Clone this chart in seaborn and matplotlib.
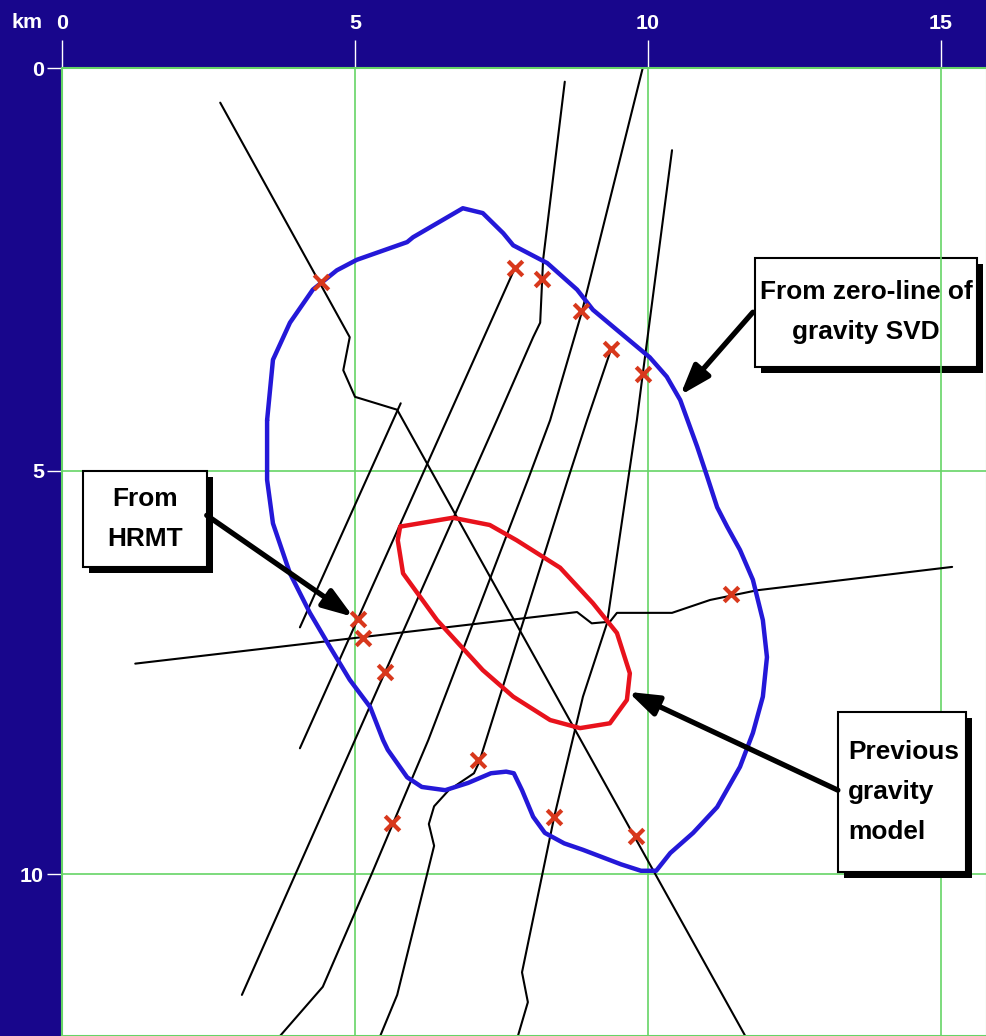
import matplotlib
matplotlib.use("Agg")
import matplotlib.pyplot as plt
from matplotlib import font_manager
from matplotlib.patches import Rectangle
import seaborn as sns

# axis ticks (km)
x_ticks = [0, 5, 10, 15]
y_ticks = [0, 5, 10]

# survey profiles (km east, km south)
line_a_x = [2.70, 4.91, 4.80, 5.00, 5.72, 11.66]
line_a_y = [0.43, 3.34, 3.75, 4.08, 4.24, 12.01]
line_b_x = [5.78, 4.06]
line_b_y = [4.16, 6.94]
line_c_x = [1.25, 8.79, 9.04, 9.35, 9.47, 10.41, 11.06, 11.86, 15.19]
line_c_y = [7.39, 6.75, 6.89, 6.87, 6.76, 6.76, 6.60, 6.48, 6.19]
line_d_x = [7.73, 4.06]
line_d_y = [2.48, 8.44]
line_e_x = [8.58, 8.21, 8.16, 8.04, 7.42, 3.07]
line_e_y = [0.17, 2.38, 3.16, 3.34, 4.37, 11.50]
line_f_x = [9.91, 8.87, 8.33, 7.95, 6.25, 5.65, 5.29, 4.45, 3.72]
line_f_y = [0.00, 3.03, 4.37, 5.11, 8.34, 9.37, 9.99, 11.40, 12.01]
line_g_x = [10.41, 9.91, 9.81, 9.66, 9.30, 8.89, 8.55, 8.40, 7.85, 7.95, 7.78]
line_g_y = [1.02, 3.80, 4.37, 5.11, 6.89, 7.80, 8.83, 9.29, 11.22, 11.59, 12.01]
line_h_x = [9.37, 8.96, 8.63, 7.12, 7.03, 6.60, 6.35, 6.26, 6.35, 5.72, 5.43]
line_h_y = [3.49, 4.37, 5.11, 8.61, 8.75, 8.96, 9.16, 9.38, 9.65, 11.50, 12.01]

# zero-line of gravity SVD (blue)
svd_x = [3.50, 3.60, 3.89, 4.28, 4.69, 5.03, 5.89, 5.99, 6.84, 7.18, 7.53, 7.70,
         8.28, 8.79, 9.06, 9.47, 10.03, 10.32, 10.55, 10.84, 11.01, 11.18, 11.35,
         11.57, 11.79, 11.96, 12.03, 11.96, 11.79, 11.57, 11.18, 10.77, 10.38,
         10.14, 9.88, 9.54, 8.89, 8.57, 8.24, 8.04, 7.85, 7.71, 7.58, 7.32, 6.93,
         6.54, 6.14, 5.89, 5.56, 5.48, 5.26, 4.91, 4.57, 4.23, 3.89, 3.60, 3.50, 3.50]
svd_y = [4.37, 3.62, 3.16, 2.75, 2.51, 2.38, 2.16, 2.10, 1.74, 1.80, 2.05, 2.20,
         2.42, 2.75, 3.00, 3.25, 3.59, 3.83, 4.12, 4.70, 5.07, 5.45, 5.69,
         5.98, 6.35, 6.85, 7.31, 7.80, 8.25, 8.67, 9.17, 9.49, 9.74,
         9.96, 9.96, 9.88, 9.70, 9.62, 9.49, 9.29, 8.96, 8.75, 8.73, 8.75, 8.87,
         8.96, 8.92, 8.80, 8.46, 8.34, 7.93, 7.59, 7.18, 6.76, 6.27, 5.65, 5.11, 4.37]

# previous gravity model (red)
prev_x = [5.77, 6.67, 7.30, 7.76, 8.50, 9.06, 9.47, 9.69, 9.64, 9.35, 8.84, 8.33,
          7.70, 7.18, 6.40, 5.82, 5.73, 5.77]
prev_y = [5.69, 5.58, 5.67, 5.86, 6.20, 6.64, 7.01, 7.51, 7.84, 8.13, 8.19, 8.09,
          7.80, 7.47, 6.85, 6.27, 5.86, 5.69]

# HRMT edge picks (red crosses)
hit_x = [4.42, 7.73, 8.19, 8.86, 9.37, 9.91, 11.42, 5.05, 5.14, 5.51, 7.10, 5.63, 8.40, 9.80]
hit_y = [2.66, 2.48, 2.62, 3.01, 3.49, 3.80, 6.53, 6.84, 7.07, 7.49, 8.59, 9.37, 9.29, 9.53]

sns.set_style("white")
names = {f.name for f in font_manager.fontManager.ttflist}
if "Liberation Sans Narrow" in names:
    face, k = "Liberation Sans Narrow", 1.0
else:
    face, k = "Liberation Sans", 0.86
plt.rcParams["font.family"] = [face, "DejaVu Sans"]

navy = "#18068c"
green = "#66d466"

fig = plt.figure(figsize=(9.87, 10.36), dpi=100, facecolor=navy)
ax = fig.add_axes([62 / 987, 0, 925 / 987, 968 / 1036])
ax.set_facecolor("white")

profiles = [(line_a_x, line_a_y), (line_b_x, line_b_y), (line_c_x, line_c_y),
            (line_d_x, line_d_y), (line_e_x, line_e_y), (line_f_x, line_f_y),
            (line_g_x, line_g_y), (line_h_x, line_h_y)]
for xs, ys in profiles:
    sns.lineplot(x=xs, y=ys, sort=False, estimator=None, color="black",
                 lw=1.5, ax=ax, zorder=2)

sns.lineplot(x=svd_x, y=svd_y, sort=False, estimator=None, color="#2418d8",
             lw=3.2, ax=ax, zorder=3)
sns.lineplot(x=prev_x, y=prev_y, sort=False, estimator=None, color="#e8121c",
             lw=3.2, ax=ax, zorder=3)
sns.scatterplot(x=hit_x, y=hit_y, marker="x", s=110, linewidth=3,
                color="#d8381c", ax=ax, zorder=4)

ax.set_xlim(0, 925 / 58.6)
ax.set_ylim(968 / 80.6, 0)


def box(x0, y0, x1, y1, z):
    ax.add_patch(Rectangle((x0 + 0.1, y0 + 0.075), x1 - x0, y1 - y0,
                           fc="black", ec="none", zorder=z))
    ax.add_patch(Rectangle((x0, y0), x1 - x0, y1 - y0, fc="white",
                           ec="black", lw=1.5, zorder=z + 0.05))


tfont = dict(fontsize=22 * k, fontweight="bold", color="black", linespacing=1.85)

box(11.83, 2.36, 15.61, 3.71, 0.2)
ax.text(13.72, 3.03, "From zero-line of\ngravity SVD", ha="center", va="center",
        zorder=0.3, **tfont)

box(0.36, 5.00, 2.47, 6.19, 5)
ax.text(1.42, 5.60, "From\nHRMT", ha="center", va="center", zorder=5.2, **tfont)

box(13.24, 7.99, 15.43, 9.98, 5)
ax.text(13.41, 8.98, "Previous\ngravity\nmodel", ha="left", va="center",
        zorder=5.2, **tfont)

arrow = dict(arrowstyle="-|>,head_length=1.3,head_width=0.45", color="black",
             lw=3.8, shrinkA=0, shrinkB=0, mutation_scale=14)
ax.annotate("", xy=(10.55, 4.06), xytext=(11.79, 3.03), arrowprops=arrow, zorder=6)
ax.annotate("", xy=(4.97, 6.81), xytext=(2.47, 5.55), arrowprops=arrow, zorder=6)
ax.annotate("", xy=(9.66, 7.74), xytext=(13.24, 8.96), arrowprops=arrow, zorder=6)

ax.set_xticks(x_ticks)
ax.set_xticklabels([str(v) for v in x_ticks])
ax.set_yticks(y_ticks)
ax.set_yticklabels([str(v) for v in y_ticks])
ax.tick_params(axis="x", top=True, bottom=False, labeltop=True, labelbottom=False,
               length=20, width=1, color="white", labelcolor="white",
               labelsize=18 * k, pad=5)
ax.tick_params(axis="y", left=True, length=11, width=1, color="white",
               labelcolor="white", labelsize=18 * k, pad=2)
for lbl in ax.get_xticklabels() + ax.get_yticklabels():
    lbl.set_fontweight("bold")

ax.grid(True, color=green, lw=1.2)
ax.set_axisbelow(True)
for s in ax.spines.values():
    s.set_color(green)
    s.set_linewidth(1.5)

fig.text(27 / 987, 1 - 22 / 1036, "km", color="white", fontsize=18 * k,
         fontweight="bold", ha="center", va="center")

fig.savefig("out.png", dpi=100, facecolor=navy)
